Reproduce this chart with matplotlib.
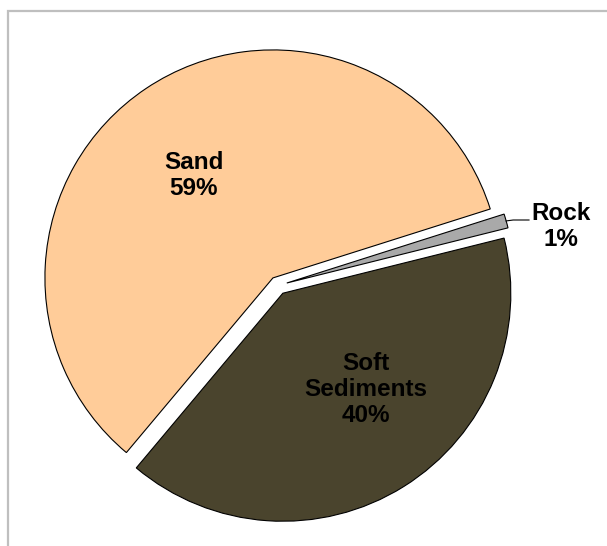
import numpy as np
import matplotlib
matplotlib.use("Agg")
import matplotlib.pyplot as plt
from matplotlib.patches import Rectangle

# ── Data ────────────────────────────────────────────────
categories = ["Soft\nSediments", "Rock", "Sand"]
shares     = [40, 1, 59]
colors     = ["#4A442D", "#A9A9A9", "#FFCC99"]

W, H = 607, 546
plt.rcParams["font.family"] = ["Liberation Sans", "DejaVu Sans"]

fig = plt.figure(figsize=(W / 100, H / 100), dpi=100)
ax = fig.add_axes([0, 0, 1, 1])

center = (278, H - 285.5)
radius = 228
explode = [0.04 * radius] * len(shares)   # pie() takes the offset in data units

wedges, _ = ax.pie(shares, explode=explode, colors=colors,
                   startangle=-130, counterclock=True,
                   center=center, radius=radius,
                   wedgeprops=dict(edgecolor="black", linewidth=0.8))

ax.set_xlim(0, W)
ax.set_ylim(0, H)
ax.set_aspect("equal")
ax.axis("off")

# labels
label_pos = [(366, H - 389.5), (561, H - 226.5), (193.5, H - 175.5)]
for name, val, (x, y) in zip(categories, shares, label_pos):
    ax.text(x, y, f"{name}\n{val}%", ha="center", va="center",
            fontsize=17.5, fontweight="bold", color="black", linespacing=1.18)

# leader line for the small Rock slice
rock = wedges[1]
mid = np.deg2rad((rock.theta1 + rock.theta2) / 2)
cx, cy = rock.center
tip = (cx + rock.r * np.cos(mid), cy + rock.r * np.sin(mid))
ax.plot([tip[0], tip[0] + 7, 529], [tip[1], H - 220, H - 220],
        color="black", linewidth=0.8)

# chart area border (grey, cut off at right and bottom)
fig.patches.append(Rectangle((8 / W, -0.1), 1.2, 1 - 11 / H + 0.1,
                             transform=fig.transFigure, fill=False,
                             edgecolor="#BFBFBF", linewidth=1.6))

fig.savefig("out.png", dpi=100)
